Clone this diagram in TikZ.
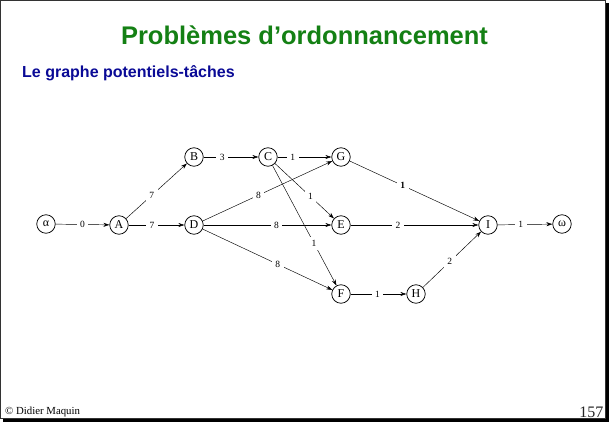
\documentclass[tikz,border=0pt]{standalone}
\usepackage{fontspec}
\setmainfont{Liberation Serif}
\newfontfamily\headfont{Liberation Sans}
\usetikzlibrary{arrows.meta}
\definecolor{titlegreen}{RGB}{20,128,20}
\definecolor{subblue}{RGB}{10,10,150}
\tikzset{
  vertex/.style={circle, draw, line width=0.75pt, minimum size=18.5pt, inner sep=0pt, font=\fontsize{12}{12}\selectfont},
  arc/.style={line width=0.45pt, -{Stealth[length=6pt,width=4pt]}},
  wt/.style={fill=white, inner sep=3.5pt, font=\fontsize{9.5}{9.5}\selectfont}
}
\begin{document}
\begin{tikzpicture}[x=1pt, y=-1pt]
% slide frame with drop shadow
\fill[black] (3,3) rectangle (609,422);
\fill[white] (0,0) rectangle (605.5,418.5);
\draw[line width=1pt, black!80] (0.5,0.5) rectangle (605.5,418.5);
\useasboundingbox (0,0) rectangle (609,422);

% headings
\node[anchor=base, text=titlegreen, font=\headfont\bfseries\fontsize{25.5}{26}\selectfont] (title) at (304.5,44.5) {Problèmes d’ordonnancement};
\node[anchor=base west, inner sep=0pt, text=subblue, font=\headfont\bfseries\fontsize{16}{16}\selectfont] (subtitle) at (22,78) {Le graphe potentiels-tâches};

% vertices
\node[vertex] (alpha) at (46,224) {α};
\node[vertex] (A) at (119,225) {A};
\node[vertex] (B) at (194,157) {B};
\node[vertex] (C) at (268,157) {C};
\node[vertex] (D) at (194,225) {D};
\node[vertex] (G) at (341,157) {G};
\node[vertex] (E) at (341,225) {E};
\node[vertex] (F) at (341,294) {F};
\node[vertex] (H) at (416,294) {H};
\node[vertex] (I) at (488,225) {I};
\node[vertex] (omega) at (562,224) {ω};

% weighted arcs
\draw[arc] (alpha) -- node[wt, pos=0.5] {0} (A);
\draw[arc] (A) -- node[wt, pos=0.42] {7} (D);
\draw[arc] (A) -- node[wt, pos=0.42] {7} (B);
\draw[arc] (B) -- node[wt, pos=0.34] {3} (C);
\draw[arc] (C) -- node[wt, pos=0.28] {1} (G);
\draw[arc] (C) -- node[wt, pos=0.6] {1} (E);
\draw[arc] (C) -- node[wt, pos=0.65] {1} (F);
\draw[arc] (D) -- node[wt, pos=0.43] {8} (G);
\draw[arc] (D) -- node[wt, pos=0.57] {8} (E);
\draw[arc] (D) -- node[wt, pos=0.58] {8} (F);
\draw[arc] (G) -- node[wt, pos=0.41] {\textbf{1}} (I);
\draw[arc] (E) -- node[wt, pos=0.37] {2} (I);
\draw[arc] (F) -- node[wt, pos=0.48] {1} (H);
\draw[arc] (H) -- node[wt, pos=0.46] {2} (I);
\draw[arc] (I) -- node[wt, pos=0.42] {1} (omega);

% footer
\node[anchor=base west, inner sep=0pt, font=\fontsize{10.8}{11}\selectfont] (author) at (5,414) {© Didier Maquin};
\node[anchor=base east, inner sep=0pt, font=\fontsize{16}{16}\selectfont, text=black!85] (page) at (603.5,417) {157};
\end{tikzpicture}
\end{document}
